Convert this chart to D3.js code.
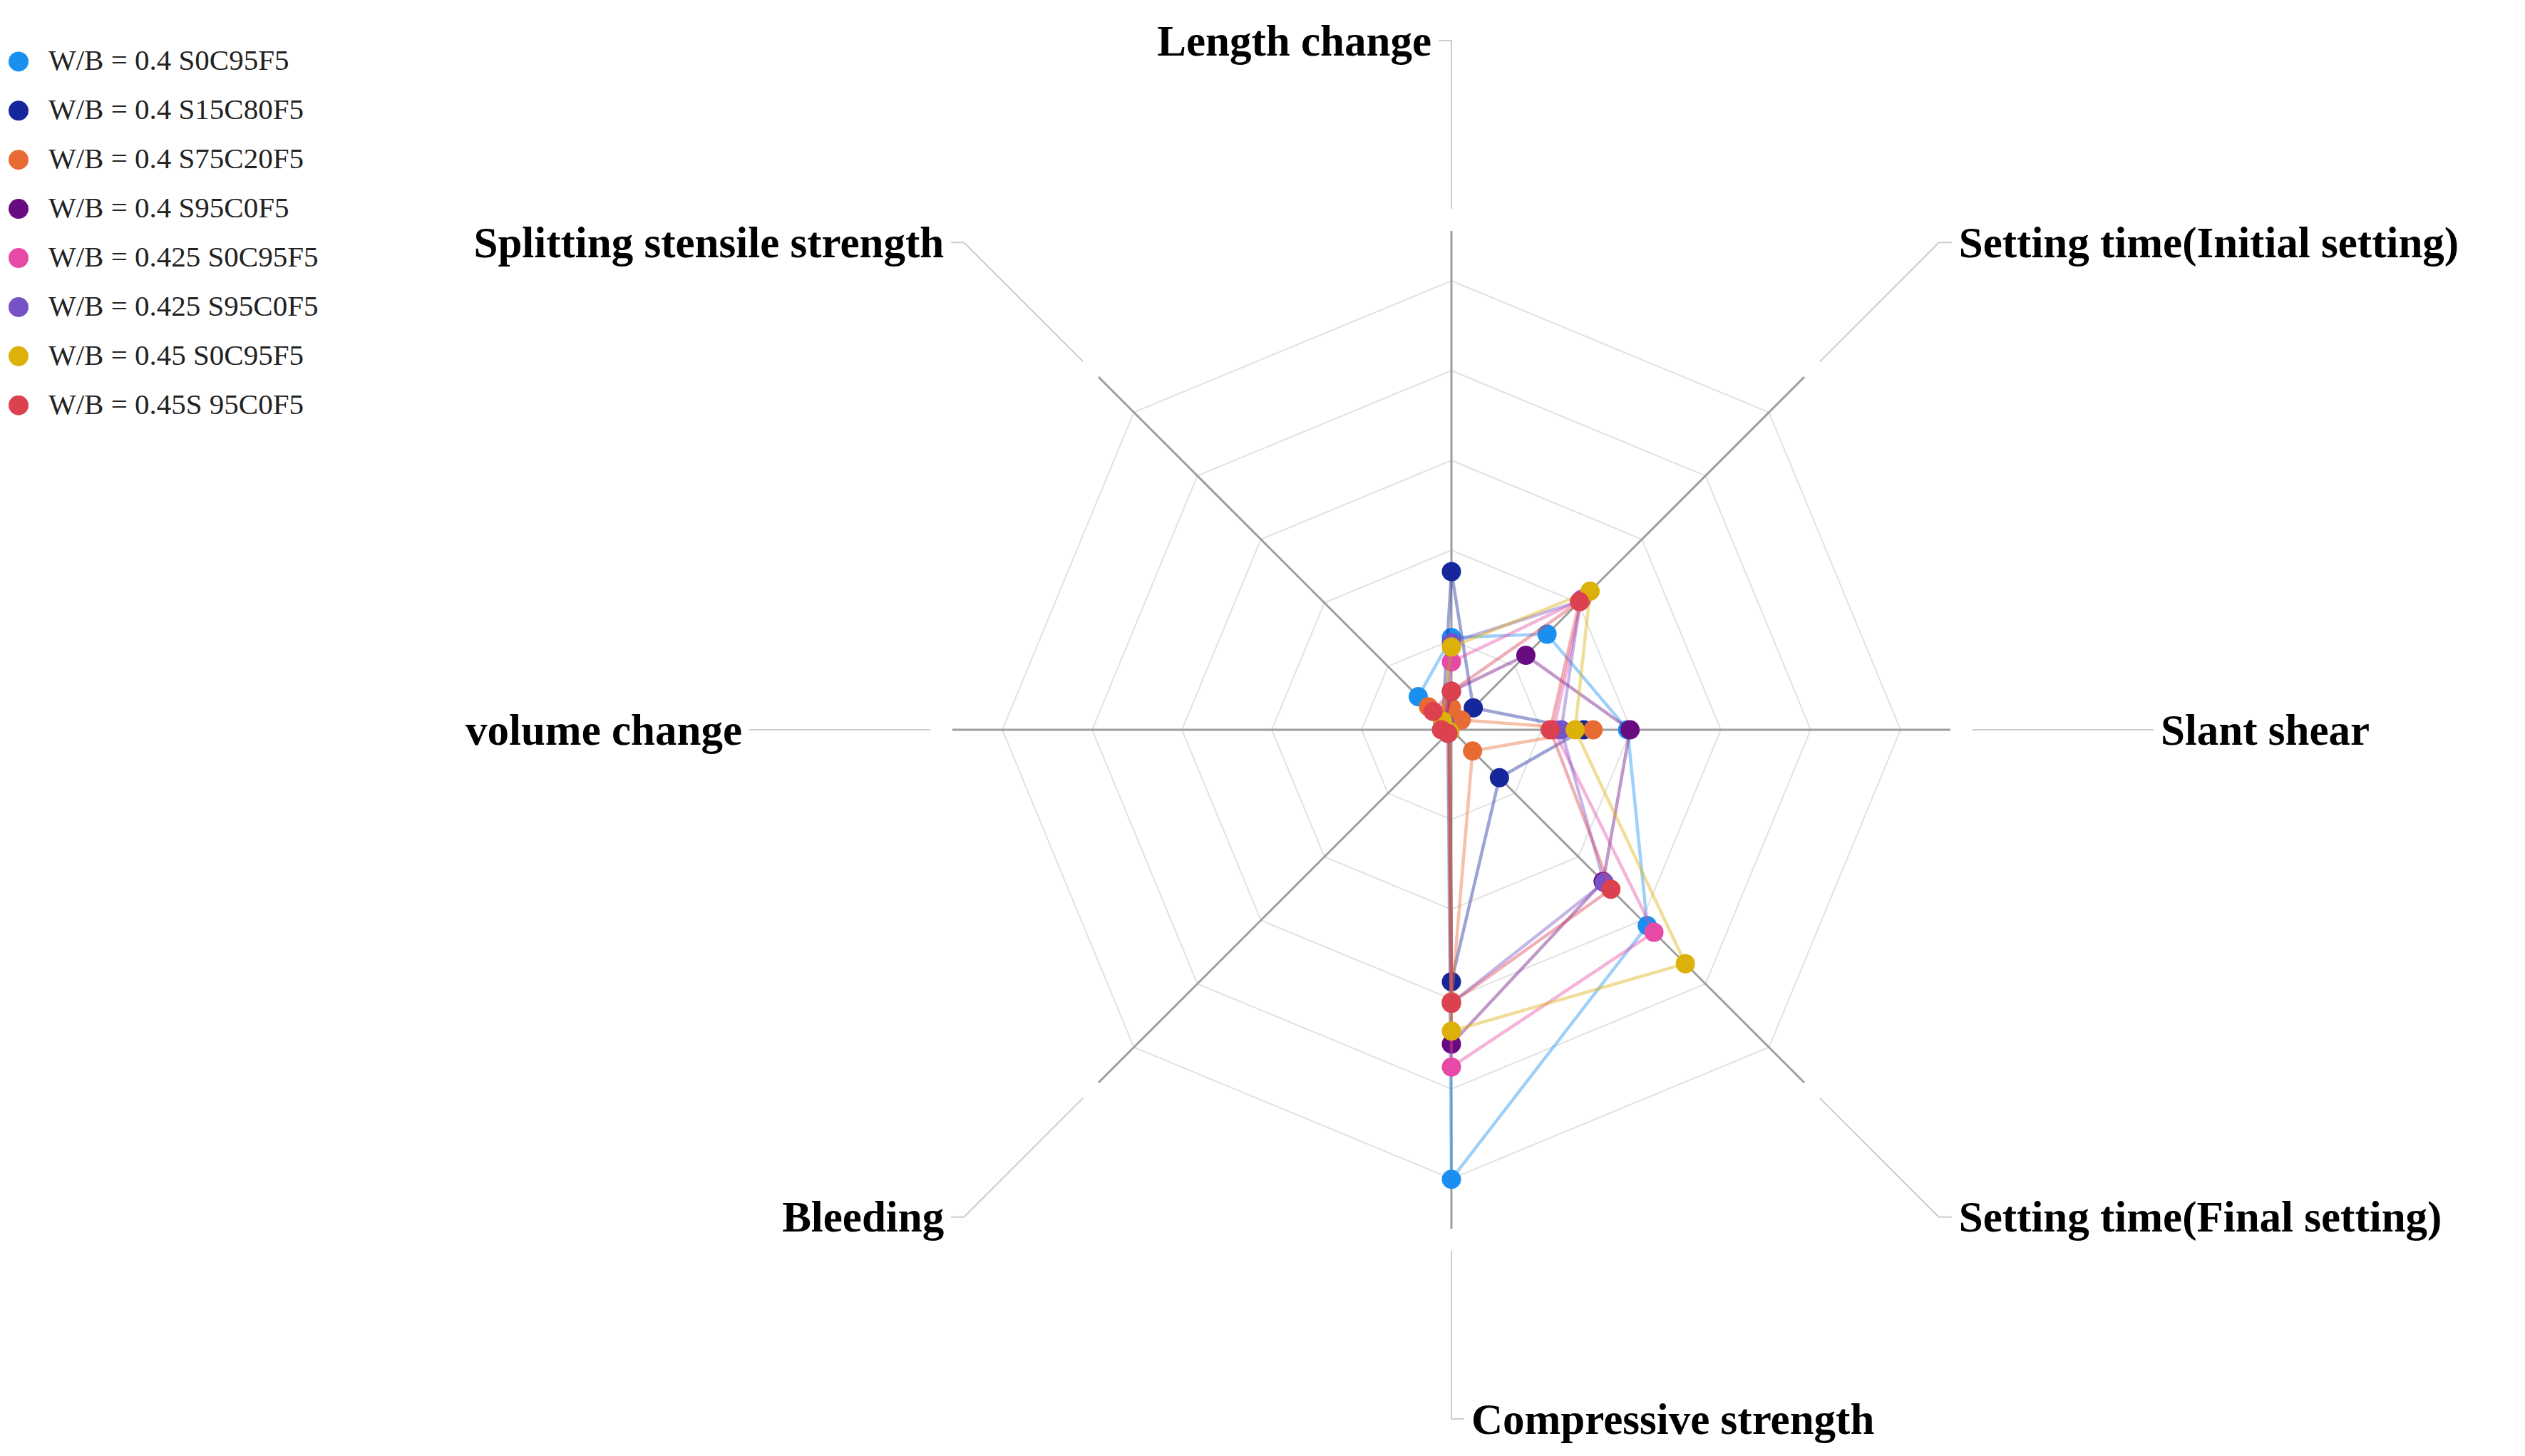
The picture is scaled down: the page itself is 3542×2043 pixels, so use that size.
<!DOCTYPE html>
<html>
<head>
<meta charset="utf-8">
<script src="https://cdn.jsdelivr.net/npm/d3@7"></script>
<style>
  body { margin: 0; background: #ffffff; }
  text { font-family: "Liberation Serif", "Times New Roman", serif; }
</style>
</head>
<body>
<div id="radarChart"></div>
<script>
// axes, clockwise from the top
const axisNames = [
  "Length change",
  "Setting time(Initial setting)",
  "Slant shear",
  "Setting time(Final setting)",
  "Compressive strength",
  "Bleeding",
  "volume change",
  "Splitting stensile strength"
];

const seriesNames = [
  "W/B = 0.4 S0C95F5",
  "W/B = 0.4 S15C80F5",
  "W/B = 0.4 S75C20F5",
  "W/B = 0.4 S95C0F5",
  "W/B = 0.425 S0C95F5",
  "W/B = 0.425 S95C0F5",
  "W/B = 0.45 S0C95F5",
  "W/B = 0.45S 95C0F5"
];

const seriesColors = ["#1a8ff0", "#15279a", "#e96b34", "#680a80", "#e64aa6", "#7652c6", "#dbb10a", "#dc4150"];

// values, 0..100 of the axis length
const wb040S0C95F5  = [18.5, 27.1, 35.3, 55.5, 90.1, 1.0, 1.5, 9.4];
const wb040S15C80F5 = [31.7,  6.2, 26.5, 13.6, 50.5, 0.5, 0.8, 2.5];
const wb040S75C20F5 = [ 4.4,  2.8, 28.4,  6.0, 54.5, 0.5, 1.0, 6.5];
const wb040S95C0F5  = [ 7.7, 21.1, 35.8, 43.0, 63.0, 0.5, 1.0, 2.0];
const wb0425S0C95F5 = [13.6, 37.0, 20.5, 57.4, 67.6, 0.5, 1.0, 2.0];
const wb0425S95C0F5 = [17.5, 36.5, 22.0, 43.3, 54.8, 0.5, 1.0, 2.0];
const wb045S0C95F5  = [16.6, 39.3, 24.8, 66.3, 60.4, 0.5, 1.0, 2.5];
const wb045S95C0F5  = [ 7.7, 36.3, 19.8, 45.2, 54.8, 1.0, 2.0, 5.2];

const ringValues = [18, 36, 54, 72, 90];
const axisMax = 100;

const seriesValues = [wb040S0C95F5, wb040S15C80F5, wb040S75C20F5, wb040S95C0F5,
                      wb0425S0C95F5, wb0425S95C0F5, wb045S0C95F5, wb045S95C0F5];

const width = 3542, height = 2043;
const center = {x: 2036, y: 1024};

const rScale = d3.scaleLinear().domain([0, axisMax]).range([0, 700]);
const angleOf = i => i * 2 * Math.PI / axisNames.length;

const svg = d3.select("#radarChart").append("svg")
  .attr("width", width)
  .attr("height", height);

const g = svg.append("g").attr("transform", `translate(${center.x},${center.y})`);

const radarLine = d3.lineRadial()
  .angle((d, i) => angleOf(i))
  .radius(d => rScale(d))
  .curve(d3.curveLinearClosed);

// split rings
g.selectAll(".ring").data(ringValues).enter().append("path")
  .attr("class", "ring")
  .attr("d", v => radarLine(axisNames.map(() => v)))
  .attr("fill", "none")
  .attr("stroke", "#e2e2e2")
  .attr("stroke-width", 2);

// axis lines
g.selectAll(".axis").data(axisNames).enter().append("line")
  .attr("class", "axis")
  .attr("x1", 0).attr("y1", 0)
  .attr("x2", (d, i) => d3.pointRadial(angleOf(i), rScale(axisMax))[0])
  .attr("y2", (d, i) => d3.pointRadial(angleOf(i), rScale(axisMax))[1])
  .attr("stroke", "#9d9d9d")
  .attr("stroke-width", 3);

// label leader lines and names
const leaderStart = rScale(axisMax) + 31;
const leaderEnd = rScale(axisMax) + 267;
function labelSide(i) {
  const s = Math.sin(angleOf(i)), c = Math.cos(angleOf(i));
  if (Math.abs(s) < 1e-6) return c > 0 ? -1 : 1;
  return s > 0 ? 1 : -1;
}

axisNames.forEach((name, i) => {
  const a = angleOf(i);
  const p0 = d3.pointRadial(a, leaderStart);
  const p1 = d3.pointRadial(a, leaderEnd);
  const side = labelSide(i);
  const p2 = [p1[0] + side * 18, p1[1]];
  g.append("polyline")
    .attr("points", [p0, p1, p2].map(p => p.join(",")).join(" "))
    .attr("fill", "none")
    .attr("stroke", "#cccccc")
    .attr("stroke-width", 2);
  g.append("text")
    .attr("x", p2[0] + side * 10)
    .attr("y", p2[1])
    .attr("text-anchor", side > 0 ? "start" : "end")
    .attr("dominant-baseline", "central")
    .attr("font-size", 61)
    .attr("font-weight", "bold")
    .attr("fill", "#000")
    .text(name);
});

// series
seriesValues.forEach((values, s) => {
  const sg = g.append("g").attr("class", "series");
  sg.append("path")
    .attr("d", radarLine(values))
    .attr("fill", "none")
    .attr("stroke", seriesColors[s])
    .attr("stroke-opacity", 0.42)
    .attr("stroke-width", 4.5)
    .attr("stroke-linejoin", "round");
  sg.selectAll("circle").data(values).enter().append("circle")
    .attr("cx", (d, i) => d3.pointRadial(angleOf(i), rScale(d))[0])
    .attr("cy", (d, i) => d3.pointRadial(angleOf(i), rScale(d))[1])
    .attr("r", 13.5)
    .attr("fill", seriesColors[s]);
});

// legend
const legend = svg.append("g").attr("class", "legend");
const legendItems = legend.selectAll("g").data(seriesNames).enter().append("g")
  .attr("transform", (d, i) => `translate(26,${86.4 + i * 68.9})`);
legendItems.append("circle")
  .attr("r", 14)
  .attr("fill", (d, i) => seriesColors[i]);
legendItems.append("text")
  .attr("x", 42)
  .attr("dy", "-0.05em")
  .attr("dominant-baseline", "central")
  .attr("font-size", 41)
  .attr("fill", "#222")
  .text(d => d);
</script>
</body>
</html>
